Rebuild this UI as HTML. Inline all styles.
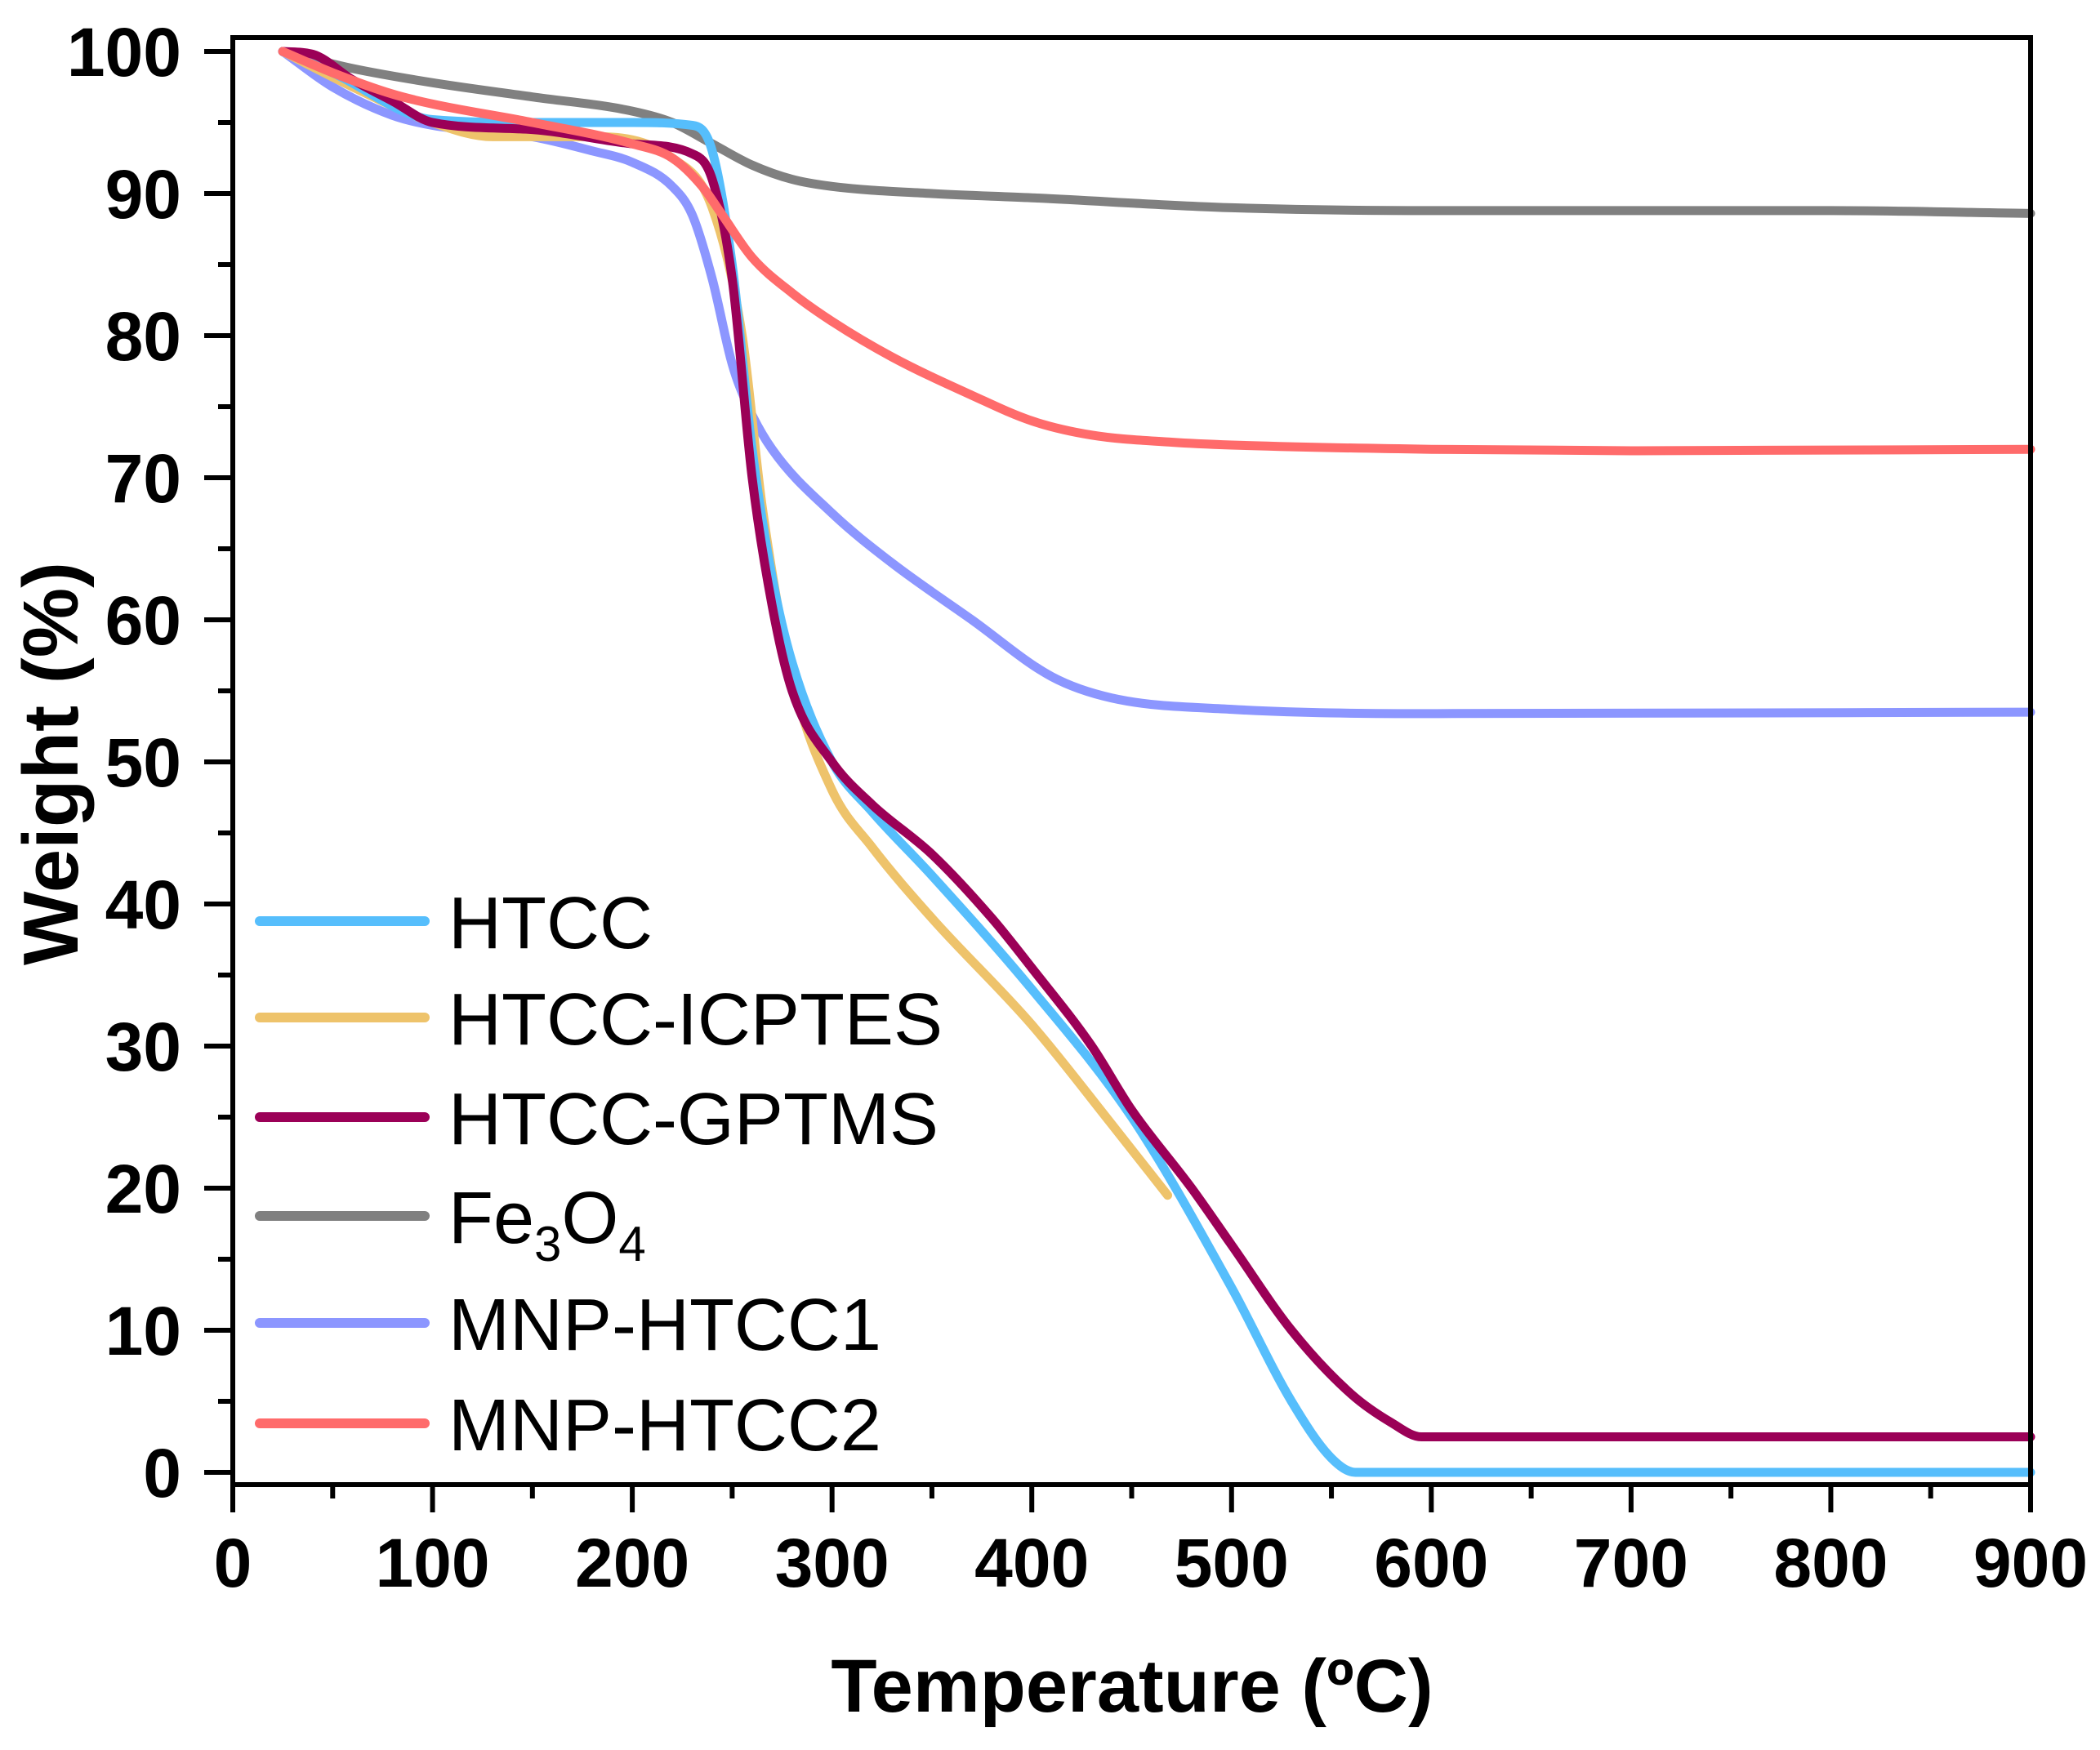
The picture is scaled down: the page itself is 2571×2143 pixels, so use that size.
<!DOCTYPE html>
<html><head><meta charset="utf-8"><style>
html,body{margin:0;padding:0;background:#fff}
svg{display:block}
text{font-family:"Liberation Sans",Arial,sans-serif}
</style></head><body>
<svg id="chart" width="2571" height="2143" viewBox="0 0 2571 2143" xmlns="http://www.w3.org/2000/svg">
<g id="curves"></g>
<rect x="285" y="46" width="2201" height="1772" fill="none" stroke="#000" stroke-width="6"/>
<g id="axes"></g>
<g id="legend"></g>
<text x="1386" y="2096" font-size="92" font-weight="bold" text-anchor="middle">Temperature (ºC)</text>
<text x="0" y="0" font-size="96" font-weight="bold" text-anchor="middle" transform="translate(95,935) rotate(-90)">Weight  (%)</text>
</svg>
<script>
const xTicks=[0,100,200,300,400,500,600,700,800,900];
const yTicks=[0,10,20,30,40,50,60,70,80,90,100];
const seriesNames=["Fe3O4","MNP-HTCC1","HTCC-ICPTES","HTCC","HTCC-GPTMS","MNP-HTCC2"];
const seriesColors=["#808080","#8C96FF","#EEC36B","#56BEFC","#9B0057","#FF6B6B"];
const feT=[25,60,100,150,200,220,240,260,280,300,350,400,500,600,800,900];
const feW=[100,98.8,97.8,96.8,95.8,95,93.5,92,91,90.5,90,89.7,89,88.8,88.8,88.6];
const m1T=[25,50,80,100,150,180,200,220,230,240,250,258,270,300,330,370,410,440,500,600,900];
const m1W=[100,97.5,95.5,94.8,94,93,92.2,90.5,88.5,84,78,75,72,67.5,64,60,56,54.5,53.7,53.4,53.5];
const icT=[25,60,100,130,180,220,240,255,265,280,300,320,350,400,440,468];
const icW=[100,97.5,95,94,94,92.5,89,80,68,56,48,44,39,31.5,24.5,19.5];
const htT=[25,50,100,150,200,230,240,250,260,270,280,300,320,350,400,450,500,530,550,562,900];
const htW=[100,98.5,95.2,95,95,94.8,93,85,72,63,57,50,46.5,42,34,25,13,5,1,0,0];
const gpT=[25,40,60,80,100,150,200,230,240,250,260,270,280,300,320,350,380,400,430,450,480,500,530,560,580,595,900];
const gpW=[100,99.8,98,96.5,95,94.5,93.5,92.8,91,84,70,61,55,50,47,43.5,39,35.5,30,25.5,20,16,10,5.5,3.5,2.5,2.5];
const m2T=[25,50,80,100,150,200,220,235,245,260,280,300,330,370,400,430,470,500,600,700,900];
const m2W=[100,98.5,97,96.3,95,93.5,92.5,90.5,88.5,85.5,83,81,78.5,75.8,74,73,72.5,72.3,72,71.9,72];
const allT=[feT,m1T,icT,htT,gpT,m2T];
const allW=[feW,m1W,icW,htW,gpW,m2W];
const legendLabels=["HTCC","HTCC-ICPTES","HTCC-GPTMS","Fe3O4","MNP-HTCC1","MNP-HTCC2"];
const legendColors=["#56BEFC","#EEC36B","#9B0057","#808080","#8C96FF","#FF6B6B"];

const NS="http://www.w3.org/2000/svg";
const X0=285,X1=2486,Y100=63,Y0=1803;
function sx(t){return X0+(t-0)*(X1-X0)/900;}
function sy(w){return Y0-(w)*(Y0-Y100)/100;}
function mk(tag,attrs,parent){const e=document.createElementNS(NS,tag);for(const k in attrs)e.setAttribute(k,attrs[k]);parent.appendChild(e);return e;}
function monotone(pts){
  const n=pts.length,dx=[],sl=[],m=[];
  for(let i=0;i<n-1;i++){dx[i]=pts[i+1][0]-pts[i][0];sl[i]=(pts[i+1][1]-pts[i][1])/dx[i];}
  m[0]=sl[0];m[n-1]=sl[n-2];
  for(let i=1;i<n-1;i++){m[i]=(sl[i-1]*sl[i]<=0)?0:(sl[i-1]+sl[i])/2;}
  for(let i=0;i<n-1;i++){if(sl[i]===0){m[i]=0;m[i+1]=0;continue;}const a=m[i]/sl[i],b=m[i+1]/sl[i],h=a*a+b*b;if(h>9){const t=3/Math.sqrt(h);m[i]=t*a*sl[i];m[i+1]=t*b*sl[i];}}
  let d="M"+pts[0][0]+","+pts[0][1];
  for(let i=0;i<n-1;i++){const h=dx[i]/3;d+=" C"+(pts[i][0]+h)+","+(pts[i][1]+m[i]*h)+" "+(pts[i+1][0]-h)+","+(pts[i+1][1]-m[i+1]*h)+" "+pts[i+1][0]+","+pts[i+1][1];}
  return d;
}
const cg=document.getElementById('curves');
for(let s=0;s<seriesNames.length;s++){
  const pts=allT[s].map((t,i)=>[sx(t),sy(allW[s][i])]);
  const p=mk('path',{d:monotone(pts),fill:'none',stroke:seriesColors[s],'stroke-width':11,'stroke-linecap':'round','stroke-linejoin':'round'},cg);
  
  
}
const ag=document.getElementById('axes');
xTicks.forEach(t=>{
  const l=mk('line',{x1:sx(t),x2:sx(t),y1:1818,y2:1852,stroke:'#000','stroke-width':6},ag);
  
  
  const tx=mk('text',{x:sx(t),y:1943,'font-size':84,'font-weight':'bold','text-anchor':'middle'},ag);
  tx.textContent=t;
  
  
  if(t<900){const m=mk('line',{x1:sx(t+50),x2:sx(t+50),y1:1818,y2:1835,stroke:'#000','stroke-width':6},ag);
  
  }
});
yTicks.forEach(v=>{
  const l=mk('line',{x1:250,x2:285,y1:sy(v),y2:sy(v),stroke:'#000','stroke-width':6},ag);
  
  
  const tx=mk('text',{x:222,y:sy(v)+30,'font-size':84,'font-weight':'bold','text-anchor':'end'},ag);
  tx.textContent=v;
  
  
  if(v<100){const m=mk('line',{x1:267,x2:285,y1:sy(v+5),y2:sy(v+5),stroke:'#000','stroke-width':6},ag);
  
  }
});
const lg=document.getElementById('legend');
const LY=[1128,1246,1368,1489,1620,1743];
legendLabels.forEach((lab,i)=>{
  const g=mk('g',{},lg);
  
  
  mk('line',{x1:318,x2:520,y1:LY[i],y2:LY[i],stroke:legendColors[i],'stroke-width':12,'stroke-linecap':'round'},g);
  const tx=mk('text',{x:549,y:LY[i]+33,'font-size':90},g);
  if(lab==="Fe3O4"){tx.innerHTML='Fe<tspan font-size="60" dy="22">3</tspan><tspan dy="-22">O</tspan><tspan font-size="60" dy="22">4</tspan>';}
  else tx.textContent=lab;
});
</script>
</body></html>
